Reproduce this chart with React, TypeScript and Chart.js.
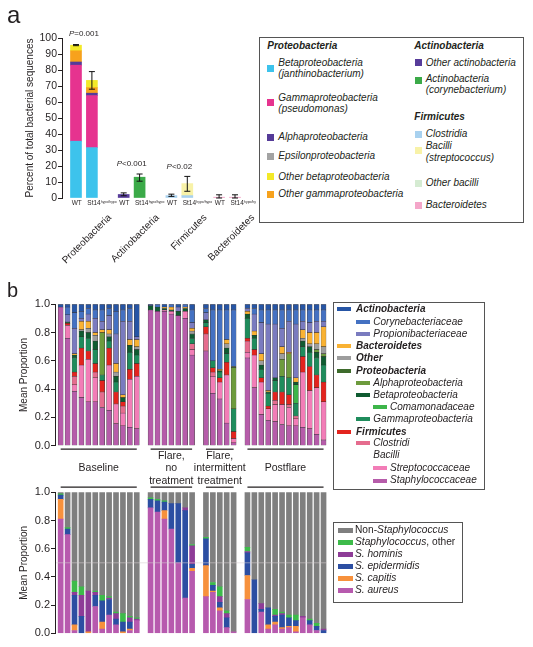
import React, { useEffect, useRef } from 'react';
import { Chart, registerables } from 'chart.js';

Chart.register(...registerables);

const FONT = '"Liberation Sans", Arial, Helvetica, sans-serif';
const INK = '#231f20';
Chart.defaults.font.family = FONT;
Chart.defaults.color = INK;

// ---------------- Panel a data ----------------
const aSlotLabels = ['WT', 'St14', null, 'WT', 'St14', null, 'WT', 'St14', null, 'WT', 'St14'];
const aPhyla = ['Proteobacteria', 'Actinobacteria', 'Firmicutes', 'Bacteroidetes'];
const aBetaproteo = [35.5, 31.5, null, 0, 0, null, 0, 0, null, 0, 0];
const aGammaproteo = [47.5, 32.5, null, 0, 0, null, 0, 0, null, 0, 0];
const aAlphaproteo = [2, 1.5, null, 0, 0, null, 0, 0, null, 0, 0];
const aEpsilonproteo = [0, 0, null, 0, 0, null, 0, 0, null, 0, 0];
const aOtherGamma = [7, 3.5, null, 0, 0, null, 0, 0, null, 0, 0];
const aOtherBeta = [3.5, 4.5, null, 0, 0, null, 0, 0, null, 0, 0];
const aOtherActino = [0, 0, null, 2.2, 0, null, 0, 0, null, 0, 0];
const aCoryne = [0, 0, null, 0, 13, null, 0, 0, null, 0, 0];
const aClostridia = [0, 0, null, 0, 0, null, 1.5, 1.5, null, 0, 0];
const aBacilli = [0, 0, null, 0, 0, null, 0, 7.5, null, 0, 0];
const aOtherBacilli = [0, 0, null, 0, 0, null, 0, 0, null, 0, 0];
const aBacteroidetes = [0, 0, null, 0, 0, null, 0, 0, null, 0.5, 0.5];
const aErrLow = [95.2, 68, null, 1.4, 10.5, null, 1, 4.2, null, 0, 0];
const aErrHigh = [95.9, 79, null, 3.2, 15, null, 2.4, 13.5, null, 2, 2];
const aPLabels = ['P=0.001', 'P<0.001', 'P<0.02'];
const aPLevels = [102.6, 21.4, 19.8];
const aYTicks = [0, 10, 20, 30, 40, 50, 60, 70, 80, 90, 100];

const C = {
  beta: '#3dc3ec', gamma: '#e6338f', alpha: '#553b98', eps: '#a3a3a3', oBeta: '#f3e928', oGamma: '#f7a21c',
  oActino: '#573c9a', coryA: '#3baa48', clostA: '#a8d1ef', bacilli: '#f8f2a8', oBacilli: '#d5ebd2', bacterA: '#f4a6c9',
};

const aSeries: [string, string, (number | null)[]][] = [
  ['Betaproteobacteria', C.beta, aBetaproteo],
  ['Gammaproteobacteria', C.gamma, aGammaproteo],
  ['Alphaproteobacteria', C.alpha, aAlphaproteo],
  ['Epsilonproteobacteria', C.eps, aEpsilonproteo],
  ['Other gammaproteobacteria', C.oGamma, aOtherGamma],
  ['Other betaproteobacteria', C.oBeta, aOtherBeta],
  ['Other actinobacteria', C.oActino, aOtherActino],
  ['Actinobacteria (corynebacterium)', C.coryA, aCoryne],
  ['Clostridia', C.clostA, aClostridia],
  ['Bacilli (streptococcus)', C.bacilli, aBacilli],
  ['Other bacilli', C.oBacilli, aOtherBacilli],
  ['Bacteroidetes', C.bacterA, aBacteroidetes],
];

// ---------------- Panel b data (39 slots: 12 baseline, gap, 7 flare, gap, 5 intermittent, gap, 12 postflare) ----------------
const bGroupNames = [['Baseline'], ['Flare,', 'no', 'treatment'], ['Flare,', 'intermittent', 'treatment'], ['Postflare']];
const bGroupSizes = [12, 7, 5, 12];

const bStaphylococcaceae = [0.98, 0.76, 0.385, 0.34, 0.31, 0.31, 0.27, 0.25, 0.155, 0.14, 0.13, 0.12, null, 0.96, 0.95, 0.95, 0.93, 0.92, 0.9, 0.64, null, 0.67, 0.37, 0.33, 0.16, 0.02, null, 0.62, 0.41, 0.22, 0.18, 0.17, 0.15, 0.14, 0.14, 0.13, 0.12, 0.08, 0.04];
const bStreptococcaceae = [0, 0.09, 0.045, 0.23, 0.3, 0.17, 0, 0.32, 0.14, 0.09, 0.34, 0.37, null, 0, 0, 0.01, 0.02, 0, 0.05, 0.04, null, 0, 0.12, 0.12, 0.34, 0.03, null, 0.04, 0.23, 0.23, 0.08, 0.12, 0.14, 0.13, 0.05, 0.39, 0.27, 0.33, 0.27];
const bClostridi = [0, 0, 0.06, 0, 0, 0.04, 0.11, 0, 0, 0.05, 0, 0, null, 0, 0, 0, 0, 0, 0, 0.04, null, 0.12, 0.03, 0, 0, 0, null, 0.08, 0, 0, 0, 0.03, 0, 0.02, 0.02, 0, 0, 0, 0];
const bFirmicutes = [0, 0.015, 0.03, 0.12, 0.06, 0.06, 0.08, 0.12, 0.085, 0.03, 0.07, 0.09, null, 0, 0, 0, 0, 0, 0, 0, null, 0.05, 0.03, 0.03, 0.09, 0.05, null, 0.02, 0.04, 0.03, 0.02, 0.06, 0.09, 0.07, 0, 0.11, 0.17, 0.09, 0.14];
const bGammaproteobacteria = [0, 0, 0.1, 0.08, 0.09, 0.1, 0.04, 0.05, 0.07, 0, 0.12, 0.06, null, 0, 0, 0, 0, 0, 0, 0.04, null, 0.03, 0.05, 0.04, 0.06, 0.16, null, 0.14, 0.08, 0.06, 0.09, 0.08, 0.11, 0.12, 0.09, 0.07, 0.1, 0.12, 0.12];
const bComamonadaceae = [0, 0, 0, 0, 0, 0, 0, 0, 0, 0, 0, 0, null, 0, 0, 0, 0, 0, 0, 0, null, 0, 0, 0, 0, 0, null, 0, 0, 0, 0, 0, 0, 0, 0.13, 0, 0, 0, 0];
const bBetaproteobacteria = [0, 0.01, 0.02, 0.04, 0.04, 0.06, 0, 0.03, 0.04, 0.03, 0.05, 0.04, null, 0.03, 0.03, 0.01, 0.01, 0.03, 0.02, 0.03, null, 0.02, 0, 0.01, 0.04, 0, null, 0.03, 0.02, 0.03, 0.01, 0.02, 0, 0, 0.02, 0.04, 0.04, 0.04, 0.06];
const bAlphaproteobacteria = [0, 0, 0, 0, 0, 0, 0.3, 0, 0, 0, 0, 0, null, 0, 0, 0, 0, 0, 0, 0, null, 0, 0, 0, 0, 0.29, null, 0, 0, 0, 0, 0, 0.12, 0.17, 0, 0, 0, 0.02, 0.02];
const bProteobacteria = [0, 0, 0, 0, 0, 0, 0, 0, 0, 0, 0, 0, null, 0, 0, 0, 0, 0, 0, 0, null, 0, 0, 0, 0, 0.01, null, 0, 0, 0, 0, 0, 0, 0, 0, 0, 0, 0, 0];
const bOther = [0, 0, 0, 0.01, 0.03, 0.04, 0, 0.02, 0.03, 0, 0, 0.02, null, 0, 0, 0, 0, 0, 0, 0.02, null, 0, 0, 0, 0.03, 0, null, 0, 0, 0.03, 0, 0, 0.04, 0, 0, 0.02, 0.02, 0.04, 0.05];
const bBacteroidetes = [0, 0, 0.01, 0.06, 0.05, 0.02, 0.02, 0.03, 0.06, 0.02, 0.04, 0.05, null, 0, 0, 0.01, 0.02, 0, 0.01, 0.02, null, 0, 0, 0.01, 0.03, 0, null, 0.02, 0.03, 0.05, 0.01, 0, 0.05, 0.01, 0.03, 0.06, 0.08, 0.08, 0.14];
const bPropionibacteriaceae = [0, 0.05, 0.18, 0.02, 0.05, 0.1, 0.06, 0.1, 0.21, 0.52, 0.13, 0.02, null, 0, 0, 0, 0, 0.03, 0, 0.04, null, 0.05, 0, 0, 0, 0, null, 0.02, 0.12, 0.22, 0.47, 0.38, 0.13, 0.22, 0.38, 0.06, 0.07, 0.08, 0.04];
const bCorynebacteriaceae = [0, 0.055, 0.11, 0.05, 0.04, 0.06, 0.08, 0.05, 0.16, 0.08, 0.09, 0, null, 0, 0.02, 0, 0.02, 0, 0.02, 0.09, null, 0.03, 0.36, 0.42, 0.21, 0.4, null, 0, 0.04, 0.09, 0.1, 0.1, 0.13, 0.08, 0.1, 0.08, 0.09, 0.08, 0.08];
const bActinobacteria = [0.02, 0.02, 0.06, 0.05, 0.03, 0.04, 0.04, 0.03, 0.05, 0.04, 0.03, 0.23, null, 0.01, 0, 0.02, 0, 0.02, 0, 0.04, null, 0.03, 0.04, 0.04, 0.04, 0.04, null, 0.03, 0.03, 0.04, 0.04, 0.04, 0.04, 0.04, 0.04, 0.04, 0.04, 0.04, 0.04];

const bSAureus = [0.81, 0.7, 0.02, 0, 0, 0.19, 0.03, 0.13, 0.06, 0, 0.02, 0.09, null, 0.89, 0.86, 0.81, 0.74, 0.5, 0.25, 0.44, null, 0.26, 0.29, 0.16, 0.04, 0.01, null, 0.24, 0, 0.15, 0.03, 0.06, 0.03, 0.04, 0.01, 0.11, 0.06, 0.02, 0];
const bSCapitis = [0.14, 0, 0.04, 0, 0.01, 0, 0.05, 0, 0, 0.01, 0.01, 0, null, 0, 0, 0.06, 0, 0, 0, 0.02, null, 0.22, 0.01, 0.02, 0, 0, null, 0.17, 0, 0, 0.03, 0.02, 0.01, 0.01, 0.04, 0, 0, 0, 0];
const bSEpidermidis = [0.03, 0.04, 0.21, 0.12, 0, 0.08, 0.15, 0.11, 0.04, 0.07, 0.05, 0, null, 0.06, 0.08, 0.06, 0.18, 0.42, 0.62, 0.03, null, 0.19, 0.04, 0.04, 0.07, 0, null, 0.16, 0.38, 0.02, 0.12, 0.04, 0.09, 0.06, 0.04, 0, 0.03, 0.03, 0.02];
const bSHominis = [0, 0, 0.02, 0.15, 0.29, 0.02, 0, 0.01, 0.04, 0, 0.03, 0.01, null, 0, 0, 0, 0, 0, 0.02, 0.13, null, 0, 0, 0.04, 0.03, 0, null, 0.01, 0, 0.04, 0, 0.01, 0.01, 0, 0, 0.01, 0, 0, 0.01];
const bStaphOther = [0.01, 0.01, 0.08, 0.06, 0, 0.01, 0.04, 0.01, 0.01, 0.06, 0.01, 0.01, null, 0.01, 0.01, 0.01, 0, 0, 0, 0.01, null, 0.01, 0.02, 0.07, 0.02, 0, null, 0.03, 0, 0, 0, 0.04, 0.01, 0.02, 0.04, 0, 0.01, 0.02, 0];
const bNonStaph = [0.01, 0.25, 0.63, 0.67, 0.7, 0.7, 0.73, 0.74, 0.85, 0.86, 0.88, 0.89, null, 0.04, 0.05, 0.06, 0.08, 0.08, 0.11, 0.37, null, 0.32, 0.64, 0.67, 0.84, 0.99, null, 0.39, 0.62, 0.79, 0.82, 0.83, 0.85, 0.87, 0.87, 0.88, 0.9, 0.93, 0.97];
const bYTicks = [0, 0.2, 0.4, 0.6, 0.8, 1.0];

const B = {
  actino: '#2655a5', cory: '#4471c2', propi: '#7a7bbf', bacter: '#f9b233', other: '#9d9d9d', proteo: '#3e6b2c',
  alpha: '#6d9b3d', beta: '#0f5b31', comam: '#3db54a', gamma: '#1f8c5c', firm: '#e3241e', clost: '#e56c8e',
  strep: '#f27db7', staph: '#b65caa',
  non: '#7f7f7f', sOther: '#3dbb4a', hominis: '#8e3c97', epi: '#2c4ea2', capitis: '#f7913c', aureus: '#b75aae',
};

const bTopSeries: [string, string, (number | null)[]][] = [
  ['Staphylococcaceae', B.staph, bStaphylococcaceae],
  ['Streptococcaceae', B.strep, bStreptococcaceae],
  ['Clostridi', B.clost, bClostridi],
  ['Firmicutes', B.firm, bFirmicutes],
  ['Gammaproteobacteria', B.gamma, bGammaproteobacteria],
  ['Comamonadaceae', B.comam, bComamonadaceae],
  ['Betaproteobacteria', B.beta, bBetaproteobacteria],
  ['Alphaproteobacteria', B.alpha, bAlphaproteobacteria],
  ['Proteobacteria', B.proteo, bProteobacteria],
  ['Other', B.other, bOther],
  ['Bacteroidetes', B.bacter, bBacteroidetes],
  ['Propionibacteriaceae', B.propi, bPropionibacteriaceae],
  ['Corynebacteriaceae', B.cory, bCorynebacteriaceae],
  ['Actinobacteria', B.actino, bActinobacteria],
];

const bBottomSeries: [string, string, (number | null)[]][] = [
  ['S. aureus', B.aureus, bSAureus],
  ['S. capitis', B.capitis, bSCapitis],
  ['S. epidermidis', B.epi, bSEpidermidis],
  ['S. hominis', B.hominis, bSHominis],
  ['Staphylococcus, other', B.sOther, bStaphOther],
  ['Non-Staphylococcus', B.non, bNonStaph],
];

const toXY = (arr: (number | null)[]) =>
  arr.map((v, i) => (v == null || v === 0 ? null : { x: i, y: v })).filter(Boolean) as { x: number; y: number }[];

const groupRanges = () => {
  const r: [number, number][] = [];
  let s = 0;
  bGroupSizes.forEach((n) => { r.push([s, s + n - 1]); s += n + 1; });
  return r;
};

const xAxis = (min: number, max: number) => ({
  type: 'linear', stacked: true, display: false, offset: false, min, max,
  afterDataLimits: (s: any) => { s.min = min; s.max = max; },
  afterBuildTicks: (s: any) => { s.ticks = [{ value: min }, { value: max }]; s.min = min; s.max = max; },
});

const yAxis = (max: number, ticks: number[], title: string, titlePad: number, width: number, size: number, fmt: (v: number) => string) => ({
  stacked: true,
  min: 0,
  max,
  afterBuildTicks: (s: any) => { s.ticks = ticks.map((v) => ({ value: v })); },
  afterFit: (s: any) => { s.width = width; },
  ticks: { font: { size, family: FONT }, color: INK, padding: 1, callback: (v: any) => fmt(Number(v)) },
  grid: { drawOnChartArea: false, drawTicks: true, tickLength: 4, color: INK, tickWidth: 1 },
  border: { display: true, color: INK, width: 1 },
  title: { display: true, text: title, color: INK, font: { size: 10, family: FONT }, padding: { top: titlePad, bottom: 0 } },
});

// ---------------- plugins ----------------
const aPlugin = {
  id: 'aExtras',
  afterDatasetsDraw(chart: any) {
    const { ctx, chartArea, scales } = chart;
    const x = scales.x, y = scales.y;
    ctx.save();
    ctx.strokeStyle = '#111';
    ctx.lineWidth = 1;
    aErrLow.forEach((lo, i) => {
      const hi = aErrHigh[i];
      if (lo == null || hi == null) return;
      const px = x.getPixelForValue(i);
      const y1 = y.getPixelForValue(lo), y2 = y.getPixelForValue(hi);
      ctx.beginPath();
      ctx.moveTo(px, y1); ctx.lineTo(px, y2);
      ctx.moveTo(px - 3, y1); ctx.lineTo(px + 3, y1);
      ctx.moveTo(px - 3, y2); ctx.lineTo(px + 3, y2);
      ctx.stroke();
    });
    ctx.fillStyle = INK;
    ctx.textBaseline = 'middle';
    aPLabels.forEach((t, j) => {
      const cx = (x.getPixelForValue(j * 3) + x.getPixelForValue(j * 3 + 1)) / 2;
      const cy = y.getPixelForValue(aPLevels[j]);
      ctx.font = `italic 8px ${FONT}`;
      const w1 = ctx.measureText('P').width;
      ctx.font = `8px ${FONT}`;
      const w2 = ctx.measureText(t.slice(1)).width;
      const sx = cx - (w1 + w2) / 2;
      ctx.textAlign = 'left';
      ctx.font = `italic 8px ${FONT}`;
      ctx.fillText('P', sx, cy);
      ctx.font = `8px ${FONT}`;
      ctx.fillText(t.slice(1), sx + w1, cy);
    });
    aSlotLabels.forEach((lab, i) => {
      if (!lab) return;
      const px = x.getPixelForValue(i);
      const cy = chartArea.bottom + 5.5;
      ctx.font = `6.5px ${FONT}`;
      if (lab === 'WT') {
        ctx.textAlign = 'center';
        ctx.fillText('WT', px + 0.7, cy);
      } else {
        const w1 = ctx.measureText(lab).width;
        const sx = px - 4.6;
        ctx.textAlign = 'left';
        ctx.fillText(lab, sx, cy);
        ctx.font = `3.4px ${FONT}`;
        ctx.fillText('hypo/hypo', sx + w1 + 0.3, cy - 1.6);
      }
    });
    ctx.font = `10px ${FONT}`;
    ctx.textAlign = 'right';
    aPhyla.forEach((name, j) => {
      const cx = (x.getPixelForValue(j * 3) + x.getPixelForValue(j * 3 + 1)) / 2;
      ctx.save();
      ctx.translate(cx + 26, chartArea.bottom + 18);
      ctx.rotate(-Math.PI / 4);
      ctx.fillText(name, 0, 0);
      ctx.restore();
    });
    ctx.restore();
  },
};

const bGroupPlugin = {
  id: 'bGroups',
  afterDraw(chart: any) {
    const { ctx, chartArea, scales } = chart;
    const x = scales.x;
    ctx.save();
    ctx.strokeStyle = INK;
    ctx.lineWidth = 1.2;
    ctx.fillStyle = INK;
    ctx.font = `10.5px ${FONT}`;
    ctx.textAlign = 'center';
    ctx.textBaseline = 'middle';
    groupRanges().forEach(([s, e], g) => {
      const x1 = x.getPixelForValue(s), x2 = x.getPixelForValue(e);
      [chartArea.bottom + 3.5, chartArea.bottom + 41.5].forEach((yy) => {
        ctx.beginPath(); ctx.moveTo(x1, yy); ctx.lineTo(x2, yy); ctx.stroke();
      });
      const lines = bGroupNames[g];
      const offs = lines.length === 1 ? [22.6] : [10.8, 22.6, 35.3];
      lines.forEach((t, k) => ctx.fillText(t, (x1 + x2) / 2, chartArea.bottom + offs[k]));
    });
    ctx.restore();
  },
};

const halfLinePlugin = {
  id: 'halfLine',
  afterDatasetsDraw(chart: any) {
    const { ctx, chartArea, scales } = chart;
    const yy = scales.y.getPixelForValue(0.5);
    ctx.save();
    ctx.strokeStyle = 'rgba(215,205,210,0.55)';
    ctx.lineWidth = 1;
    ctx.beginPath(); ctx.moveTo(chartArea.left + 1, yy); ctx.lineTo(chartArea.right, yy); ctx.stroke();
    ctx.restore();
  },
};

function makeA(canvas: HTMLCanvasElement) {
  return new Chart(canvas, {
    type: 'bar',
    data: {
      datasets: aSeries.map(([label, color, vals]) => ({
        label, data: toXY(vals), backgroundColor: color, borderWidth: 0, barThickness: 11,
      })),
    },
    options: {
      responsive: false,
      animation: false,
      layout: { padding: { top: 38, left: 0, right: 7, bottom: 82 } },
      plugins: { legend: { display: false }, tooltip: { enabled: false } },
      scales: {
        x: xAxis(-0.88, 10.88),
        y: yAxis(100, aYTicks, 'Percent of total bacterial sequences', 24.5, 62, 10.5, (v) => String(v)),
      },
    } as any,
    plugins: [aPlugin],
  } as any);
}

function makeB(canvas: HTMLCanvasElement, series: [string, string, (number | null)[]][], padding: any, bordered: boolean, plugin: any) {
  return new Chart(canvas, {
    type: 'bar',
    data: {
      datasets: series.map(([label, color, vals]) => ({
        label, data: toXY(vals), backgroundColor: color, barThickness: 5,
        borderWidth: bordered ? 0.5 : 0, borderColor: 'rgba(35,31,32,0.85)', borderSkipped: false,
      })),
    },
    options: {
      responsive: false,
      animation: false,
      layout: { padding },
      plugins: { legend: { display: false }, tooltip: { enabled: false } },
      scales: {
        x: xAxis(-0.82, 38.5),
        y: yAxis(1, bYTicks, 'Mean Proportion', 18, 55, 11, (v) => v.toFixed(1)),
      },
    } as any,
    plugins: [plugin],
  } as any);
}

// ---------------- HTML legends ----------------
const T = ({ x, y, size = 10, bold = false, italic = true, children }: any) => (
  <div style={{ position: 'absolute', left: x, top: y - size * 0.615, fontSize: size, lineHeight: `${size * 1.2}px`, fontWeight: bold ? 700 : 400, fontStyle: italic ? 'italic' : 'normal', whiteSpace: 'nowrap' }}>{children}</div>
);
const R = ({ x, y, w, h, color }: any) => (
  <div style={{ position: 'absolute', left: x, top: y, width: w, height: h, background: color }} />
);

const legendAHeads = [
  { x: 267.3, y: 46, text: 'Proteobacteria' },
  { x: 414.3, y: 46, text: 'Actinobacteria' },
  { x: 414.3, y: 117.3, text: 'Firmicutes' },
];
const legendAItems = [
  { x: 267.3, y: 62.7, sy: 68.3, color: C.beta, lines: ['Betaproteobacteria', '(janthinobacterium)'] },
  { x: 267.3, y: 97.7, sy: 102.7, color: C.gamma, lines: ['Gammaproteobacteria', '(pseudomonas)'] },
  { x: 267.3, y: 137, sy: 137, color: C.alpha, lines: ['Alphaproteobacteria'] },
  { x: 267.3, y: 156, sy: 156, color: C.eps, lines: ['Epsilonproteobacteria'] },
  { x: 267.3, y: 176.7, sy: 176.7, color: C.oBeta, lines: ['Other betaproteobacteria'] },
  { x: 267.3, y: 194.3, sy: 194.3, color: C.oGamma, lines: ['Other gammaproteobacteria'] },
  { x: 414.7, y: 62.7, sy: 62.7, color: C.oActino, lines: ['Other actinobacteria'] },
  { x: 414.7, y: 78.7, sy: 80, color: C.coryA, lines: ['Actinobacteria', '(corynebacterium)'] },
  { x: 414.7, y: 134, sy: 134, color: C.clostA, lines: ['Clostridia'] },
  { x: 414.7, y: 146, sy: 150.5, color: C.bacilli, lines: ['Bacilli', '(streptococcus)'] },
  { x: 414.7, y: 183.3, sy: 183.3, color: C.oBacilli, lines: ['Other bacilli'] },
  { x: 414.7, y: 205, sy: 205, color: C.bacterA, lines: ['Bacteroidetes'] },
];

const legendBTop = [
  { lvl: 0, bold: true, y: 309, color: B.actino, text: 'Actinobacteria' },
  { lvl: 1, y: 322, color: B.cory, text: 'Corynebacteriaceae' },
  { lvl: 1, y: 334, color: B.propi, text: 'Propionibacteriaceae' },
  { lvl: 0, bold: true, y: 346, color: B.bacter, text: 'Bacteroidetes' },
  { lvl: 0, bold: true, y: 358.3, color: B.other, text: 'Other' },
  { lvl: 0, bold: true, y: 370.7, color: B.proteo, text: 'Proteobacteria' },
  { lvl: 1, y: 382.7, color: B.alpha, text: 'Alphaproteobacteria' },
  { lvl: 1, y: 395, color: B.beta, text: 'Betaproteobacteria' },
  { lvl: 2, y: 406.7, color: B.comam, text: 'Comamonadaceae' },
  { lvl: 1, y: 419, color: B.gamma, text: 'Gammaproteobacteria' },
  { lvl: 0, bold: true, y: 431.7, color: B.firm, text: 'Firmicutes' },
  { lvl: 1, y: 443.3, color: B.clost, text: 'Clostridi' },
  { lvl: 1, y: 455, color: null, text: 'Bacilli' },
  { lvl: 2, y: 468, color: B.strep, text: 'Streptococcaceae' },
  { lvl: 2, y: 480.5, color: B.staph, text: 'Staphylococcaceae' },
];
const swX = [336.7, 356, 372.7];
const txX = [356, 373.3, 390];

const legendBBottom = [
  { y: 530, color: B.non, parts: [['Non-', false], ['Staphylococcus', true]] },
  { y: 542, color: B.sOther, parts: [['Staphylococcus', true], [', other', false]] },
  { y: 554, color: B.hominis, parts: [['S. hominis', true]] },
  { y: 566.3, color: B.epi, parts: [['S. epidermidis', true]] },
  { y: 578, color: B.capitis, parts: [['S. capitis', true]] },
  { y: 590, color: B.aureus, parts: [['S. aureus', true]] },
];

export default function App() {
  const aRef = useRef<HTMLCanvasElement>(null);
  const bTopRef = useRef<HTMLCanvasElement>(null);
  const bBotRef = useRef<HTMLCanvasElement>(null);

  useEffect(() => {
    const charts = [
      makeA(aRef.current!),
      makeB(bTopRef.current!, bTopSeries, { top: 14.3, left: 0, right: 8, bottom: 54.3 }, true, bGroupPlugin),
      makeB(bBotRef.current!, bBottomSeries, { top: 10.3, left: 0, right: 8, bottom: 13.7 }, false, halfLinePlugin),
    ];
    return () => charts.forEach((c) => c.destroy());
  }, []);

  return (
    <div style={{ position: 'absolute', left: 0, top: 0, width: 533, height: 647, background: '#fff', fontFamily: FONT, color: INK, overflow: 'hidden' }}>
      <canvas ref={aRef} width={256} height={280} style={{ position: 'absolute', left: 0, top: 0 }} />
      <canvas ref={bTopRef} width={335} height={210} style={{ position: 'absolute', left: 0, top: 290 }} />
      <canvas ref={bBotRef} width={335} height={165} style={{ position: 'absolute', left: 0, top: 482 }} />

      <div style={{ position: 'absolute', left: 7, top: 2.7, fontSize: 24, lineHeight: '24px' }}>a</div>
      <div style={{ position: 'absolute', left: 7, top: 280, fontSize: 20, lineHeight: '20px' }}>b</div>

      <div style={{ position: 'absolute', left: 258.5, top: 36.5, width: 263, height: 184, border: '1.3px solid #555' }} />
      {legendAHeads.map((h) => (
        <T key={h.text} x={h.x} y={h.y} bold>{h.text}</T>
      ))}
      {legendAItems.map((it) => (
        <React.Fragment key={it.lines[0] + it.x}>
          <R x={it.x} y={it.sy - 3.5} w={7} h={7} color={it.color} />
          {it.lines.map((l, k) => (
            <T key={l} x={it.x + 11} y={it.y + k * 11.8}>{l}</T>
          ))}
        </React.Fragment>
      ))}

      <div style={{ position: 'absolute', left: 332.7, top: 301.7, width: 150, height: 186, border: '1.3px solid #555' }} />
      {legendBTop.map((it) => (
        <React.Fragment key={it.text}>
          {it.color && <R x={swX[it.lvl]} y={it.y - 2} w={14} h={4} color={it.color} />}
          <T x={txX[it.lvl]} y={it.y} bold={!!it.bold}>{it.text}</T>
        </React.Fragment>
      ))}

      <div style={{ position: 'absolute', left: 332.7, top: 521.7, width: 128, height: 79, border: '1.3px solid #555' }} />
      {legendBBottom.map((it) => (
        <React.Fragment key={it.y}>
          <R x={338.3} y={it.y - 2.5} w={15} h={5} color={it.color} />
          <div style={{ position: 'absolute', left: 355, top: it.y - 6.3, fontSize: 10.2, lineHeight: '12px', whiteSpace: 'nowrap' }}>
            {it.parts.map(([t, ital]: any, k: number) => (
              <span key={k} style={{ fontStyle: ital ? 'italic' : 'normal' }}>{t}</span>
            ))}
          </div>
        </React.Fragment>
      ))}
    </div>
  );
}
